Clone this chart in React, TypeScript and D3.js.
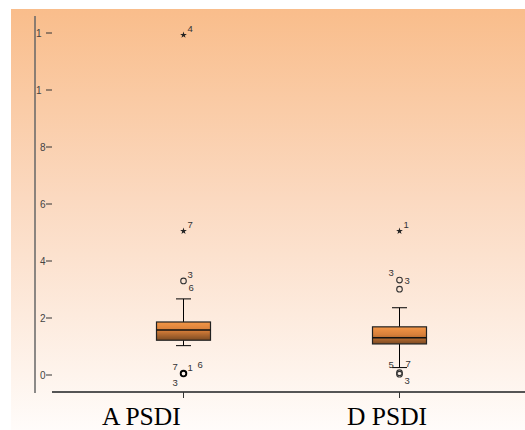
import React from "react";
import * as d3 from "d3";

// box statistics
const categories = ["A PSDI", "D PSDI"];
const q1 = [1.22, 1.09];
const median = [1.58, 1.31];
const q3 = [1.86, 1.69];
const whiskerLow = [1.03, 0.26];
const whiskerHigh = [2.67, 2.36];

// outliers: kind "o" = circle, "*" = extreme; ids = case labels with side
const outliersA = [
  { value: 11.93, kind: "*", ids: [["4", "ur"]] },
  { value: 5.05, kind: "*", ids: [["7", "ur"]] },
  { value: 3.3, kind: "o", ids: [["3", "ur"], ["6", "dr"]] },
  { value: 0.05, kind: "o", ids: [["7", "ul"], ["1", "ur"], ["6", "ur2"], ["3", "dl"]] },
];
const outliersD = [
  { value: 5.05, kind: "*", ids: [["1", "ur"]] },
  { value: 3.33, kind: "o", ids: [["3", "ul"], ["3", "r"]] },
  { value: 3.01, kind: "o", ids: [] },
  { value: 0.08, kind: "o", ids: [["5", "ul2"], ["7", "ur2b"]] },
  { value: 0.03, kind: "o", ids: [["3", "dr"]] },
];
const outliers = [outliersA, outliersD];

const yTicks = [0, 2, 4, 6, 8, 10, 12];
const yTickLabels = ["0", "2", "4", "6", "8", "1", "1"];

const sideOffset: Record<string, [number, number]> = {
  ur: [4, -3],
  r: [5, 4],
  dr: [5, 10],
  ul: [-11, -4],
  dl: [-11, 12],
  ur2: [14, -6],
  ul2: [-11, -5],
  ur2b: [6, -6],
};

export default function App() {
  const y = d3.scaleLinear().domain([0, 12]).range([375, 33]);
  const x = d3.scalePoint<string>().domain(categories).range([183.5, 399.5]);
  const star = d3.symbol().type(d3.symbolStar).size(14)();
  const boxW = 54;
  const capW = 15;

  return (
    <svg
      width={525}
      height={430}
      style={{ position: "absolute", left: 0, top: 0 }}
      fontFamily="Liberation Sans, Arial, sans-serif"
    >
      <defs>
        <linearGradient id="bg" x1="0" y1="0" x2="0" y2="1">
          <stop offset="0" stopColor="#f9bd8b" />
          <stop offset="0.45" stopColor="#fbd9c0" />
          <stop offset="1" stopColor="#fffcfa" />
        </linearGradient>
        <linearGradient id="boxfill" x1="0" y1="0" x2="0" y2="1">
          <stop offset="0" stopColor="#f49646" />
          <stop offset="0.45" stopColor="#d9803a" />
          <stop offset="1" stopColor="#7c4a22" />
        </linearGradient>
      </defs>
      <rect x={0} y={0} width={525} height={430} fill="#fff" />
      <rect x={11} y={9} width={514} height={421} fill="url(#bg)" />

      {/* y axis */}
      <line x1={35} x2={35} y1={16} y2={393} stroke="#666" strokeWidth={1.5} />
      {yTicks.map((t, i) => (
        <g key={t}>
          <line x1={46} x2={52} y1={y(t)} y2={y(t)} stroke="#333" strokeWidth={1} />
          <text
            x={yTickLabels[i] === "1" ? 36 : 40}
            y={y(t) + 3.5}
            fontSize={10}
            fill="#444"
          >
            {yTickLabels[i]}
          </text>
        </g>
      ))}

      {/* x axis */}
      <line x1={52} x2={525} y1={392} y2={392} stroke="#555" strokeWidth={2} />
      {categories.map((c) => (
        <line key={c} x1={x(c)} x2={x(c)} y1={392} y2={398} stroke="#333" strokeWidth={1} />
      ))}
      <text x={102} y={425} fontSize={25.5} fontFamily="Liberation Serif, Times New Roman, serif">
        {categories[0]}
      </text>
      <text x={347} y={425} fontSize={25.5} fontFamily="Liberation Serif, Times New Roman, serif">
        {categories[1]}
      </text>

      {categories.map((c, i) => {
        const cx = x(c) as number;
        return (
          <g key={c}>
            <line x1={cx} x2={cx} y1={y(whiskerHigh[i])} y2={y(q3[i])} stroke="#000" />
            <line x1={cx} x2={cx} y1={y(q1[i])} y2={y(whiskerLow[i])} stroke="#000" />
            <line x1={cx - capW / 2} x2={cx + capW / 2} y1={y(whiskerHigh[i])} y2={y(whiskerHigh[i])} stroke="#000" />
            <line x1={cx - capW / 2} x2={cx + capW / 2} y1={y(whiskerLow[i])} y2={y(whiskerLow[i])} stroke="#000" />
            <rect
              x={cx - boxW / 2}
              y={y(q3[i])}
              width={boxW}
              height={y(q1[i]) - y(q3[i])}
              fill="url(#boxfill)"
              stroke="#222"
              strokeWidth={1.2}
            />
            <line x1={cx - boxW / 2} x2={cx + boxW / 2} y1={y(median[i])} y2={y(median[i])} stroke="#111" strokeWidth={1.5} />
            {outliers[i].map((o, j) => {
              const oy = y(o.value);
              return (
                <g key={j}>
                  {o.kind === "*" ? (
                    <path d={star as string} transform={`translate(${cx},${oy})`} fill="#222" />
                  ) : (
                    <circle
                      cx={cx}
                      cy={oy}
                      r={2.8}
                      fill="none"
                      stroke={i === 0 && o.value < 1 ? "#000" : "#333"}
                      strokeWidth={i === 0 && o.value < 1 ? 1.9 : 1.1}
                    />
                  )}
                  {o.ids.map(([t, side], k) => (
                    <text
                      key={k}
                      x={cx + sideOffset[side][0]}
                      y={oy + sideOffset[side][1]}
                      fontSize={9.5}
                      fill="#333"
                    >
                      {t}
                    </text>
                  ))}
                </g>
              );
            })}
          </g>
        );
      })}
    </svg>
  );
}
